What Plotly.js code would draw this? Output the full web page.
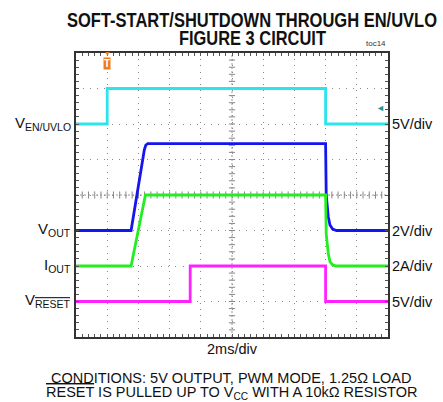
<!DOCTYPE html>
<html><head><meta charset="utf-8">
<script src="https://cdn.plot.ly/plotly-3.0.1.min.js"></script>
<style>html,body{margin:0;padding:0;background:#fff;} #chart{width:443px;height:402px;}</style>
</head><body><div id="chart"></div>
<script>
// ---- data (time in ms, trigger at 0) ----
const enTime    = [-2, 0, 0, 14, 14, 18];
const enVolts   = [0, 0, 5, 5, 0, 0];
const voutTime  = [-2, 1.53, 2.38, 2.47, 2.6, 14.0, 14.04, 14.1, 14.17, 14.28, 14.45, 14.7, 18];
const voutVolts = [0, 0, 4.55, 4.8, 4.9, 4.9, 2.0, 1.2, 0.78, 0.31, 0.08, 0, 0];
const ioutTime  = [-2, 1.53, 2.45, 14.0, 14.04, 14.1, 14.17, 14.28, 14.45, 14.7, 18];
const ioutAmps  = [0, 0, 4.0, 4.0, 1.8, 1.1, 0.72, 0.24, 0.06, 0, 0];
const resetTime  = [-2, 5.32, 5.32, 14.0, 14.0, 18];
const resetVolts = [0, 0, 5, 5, 0, 0];
const triggerLevel = 2.25; // V on EN channel
const leftLabels  = ['V<sub>EN/UVLO</sub>', 'V<sub>OUT</sub>', 'I<sub>OUT</sub>',
                     'V<sub><span style="text-decoration:overline">RESET</span></sub>'];
const rightLabels = ['5V/div', '2V/div', '2A/div', '5V/div'];
const titleLine1 = 'SOFT-START/SHUTDOWN THROUGH EN/UVLO';
const titleLine2 = 'FIGURE 3 CIRCUIT';

// ---- scope settings (style) ----
const FONT = 'Liberation Sans, Arial, sans-serif';
const DIVS_Y = 8;
const chOffset = [6, 3, 2, 1];      // ground marker position (div)
const chScale  = [5, 2, 2, 5];      // units per div
const chColor  = ['#2BE4EE', '#1515EE', '#22EE22', '#FF22FF'];
const series = [[enTime, enVolts], [voutTime, voutVolts], [ioutTime, ioutAmps], [resetTime, resetVolts]];

const traces = series.map((s, i) => ({
  x: s[0], y: s[1], type: 'scatter', mode: 'lines',
  xaxis: 'x', yaxis: 'y' + (i + 2),
  line: {color: chColor[i], width: 2.8}, hoverinfo: 'skip', showlegend: false
}));

const layout = {
  width: 443, height: 402,
  margin: {l: 76, r: 55, t: 53, b: 65},
  paper_bgcolor: '#fff', plot_bgcolor: '#fff',
  font: {family: FONT, color: '#111', size: 14},
  title: {text: titleLine1,
          font: {family: FONT, size: 20, weight: 'bold', color: '#111'},
          xref: 'container', yref: 'container', x: 252 / 443, xanchor: 'center', y: 1 - 27 / 402, yanchor: 'bottom'},
  xaxis: {range: [-2, 18], tick0: 0, dtick: 2, showticklabels: false,
          showline: true, mirror: 'allticks', linecolor: '#333', linewidth: 2,
          ticks: 'inside', ticklen: 3, tickcolor: '#555', tickwidth: 1,
          showgrid: true, gridcolor: '#8a8a8a', gridwidth: 1, griddash: '1px,5.24px',
          minor: {dtick: 0.4, tick0: 0, ticks: 'inside', ticklen: 3, tickcolor: '#555', showgrid: false},
          zeroline: false, fixedrange: true},
  yaxis: {range: [0, DIVS_Y], dtick: 1, showticklabels: false,
          showline: true, mirror: 'allticks', linecolor: '#333', linewidth: 2,
          ticks: 'inside', ticklen: 3, tickcolor: '#555', tickwidth: 1,
          showgrid: true, gridcolor: '#8a8a8a', gridwidth: 1, griddash: '1px,6.1px',
          minor: {dtick: 0.2, ticks: 'inside', ticklen: 3, tickcolor: '#555', showgrid: false},
          zeroline: false, fixedrange: true},
  shapes: [], annotations: []
};
for (let i = 0; i < 4; i++) {
  layout['yaxis' + (i + 2)] = {overlaying: 'y', visible: false, fixedrange: true,
    range: [-chOffset[i] * chScale[i], (DIVS_Y - chOffset[i]) * chScale[i]]};
}
// center graticule cross with tick marks
layout.shapes.push({type: 'line', xref: 'x', yref: 'y', x0: -2, x1: 18, y0: 4, y1: 4, line: {color: '#999', width: 1, dash: '2px,2px'}, layer: 'below'});
layout.shapes.push({type: 'line', xref: 'x', yref: 'y', x0: 8, x1: 8, y0: 0, y1: 8, line: {color: '#999', width: 1, dash: '2px,2px'}, layer: 'below'});
for (let k = 1; k < 50; k++) {
  const x = -2 + k * 0.4;
  layout.shapes.push({type: 'line', xref: 'x', yref: 'y', x0: x, x1: x, y0: 3.9, y1: 4.1, line: {color: '#888', width: 1}, layer: 'below'});
}
for (let k = 1; k < 40; k++) {
  const y = k * 0.2;
  layout.shapes.push({type: 'line', xref: 'x', yref: 'y', x0: 7.8, x1: 8.2, y0: y, y1: y, line: {color: '#888', width: 1}, layer: 'below'});
}
// channel labels
for (let i = 0; i < 4; i++) {
  layout.annotations.push({text: leftLabels[i], xref: 'paper', x: 0, xanchor: 'right', xshift: -3,
    yref: 'y' + (i + 2), y: 0, yanchor: 'middle', yshift: 1, showarrow: false, font: {size: 15, color: '#111'}});
  layout.annotations.push({text: rightLabels[i], xref: 'paper', x: 1, xanchor: 'left', xshift: 2,
    yref: 'y' + (i + 2), y: 0, yanchor: 'middle', showarrow: false, font: {size: 14.5, color: '#111'}});
}
// trigger markers
layout.annotations.push({text: 'T', xref: 'x', x: 0, yref: 'paper', y: 1, yanchor: 'top', yshift: -4,
  showarrow: false, bgcolor: '#F07A1E', borderpad: 0, font: {size: 10, color: '#fff', weight: 'bold'}});
layout.annotations.push({text: '▼', xref: 'x', x: 0, yref: 'paper', y: 1, yanchor: 'middle', yshift: 0,
  showarrow: false, font: {size: 7, color: '#F07A1E'}});
layout.annotations.push({text: '◄', xref: 'paper', x: 1, xanchor: 'right', xshift: -1, yref: 'y2', y: triggerLevel, yanchor: 'middle',
  showarrow: false, font: {size: 9, color: '#1E9A9A'}});
// titles & notes
layout.annotations.push({text: '<b>' + titleLine2 + '</b>', xref: 'paper', x: (252 - 76) / 312, xanchor: 'center',
  yref: 'paper', y: 1, yanchor: 'bottom', yshift: 2, showarrow: false,
  font: {family: FONT, size: 20, color: '#111'}});
layout.annotations.push({text: 'toc14', xref: 'paper', x: 1, xanchor: 'right', yref: 'paper', y: 1, yanchor: 'bottom', yshift: 3,
  showarrow: false, font: {size: 8, color: '#333'}});
layout.annotations.push({text: '2ms/div', xref: 'paper', x: 0.5, xanchor: 'center', yref: 'paper', y: 0, yanchor: 'top', yshift: -2,
  showarrow: false, font: {size: 14.5, color: '#111'}});
layout.annotations.push({text: 'CONDITIONS: 5V OUTPUT, PWM MODE, 1.25Ω LOAD', xref: 'paper', x: 0.497, xanchor: 'center',
  yref: 'paper', y: 0, yanchor: 'top', yshift: -31, showarrow: false, font: {size: 14.5, color: '#111'}});
layout.annotations.push({text: '<span style="text-decoration:overline">RESET</span> IS PULLED UP TO V<sub>CC</sub> WITH A 10kΩ RESISTOR',
  xref: 'paper', x: 0.497, xanchor: 'center', yref: 'paper', y: 0, yanchor: 'top', yshift: -45, showarrow: false,
  font: {size: 14.5, color: '#111'}});

Plotly.newPlot('chart', traces, layout, {staticPlot: true, displayModeBar: false}).then(gd => {
  // condensed bold face (reference uses a narrow font): squeeze the real text to its measured width
  const squeeze = (el, w) => { if (el) { el.setAttribute('textLength', w); el.setAttribute('lengthAdjust', 'spacingAndGlyphs'); } };
  squeeze(gd.querySelector('.gtitle'), 370);
  gd.querySelectorAll('.annotation-text').forEach(t => { if (t.textContent === titleLine2) squeeze(t, 147); });
});
</script></body></html>
